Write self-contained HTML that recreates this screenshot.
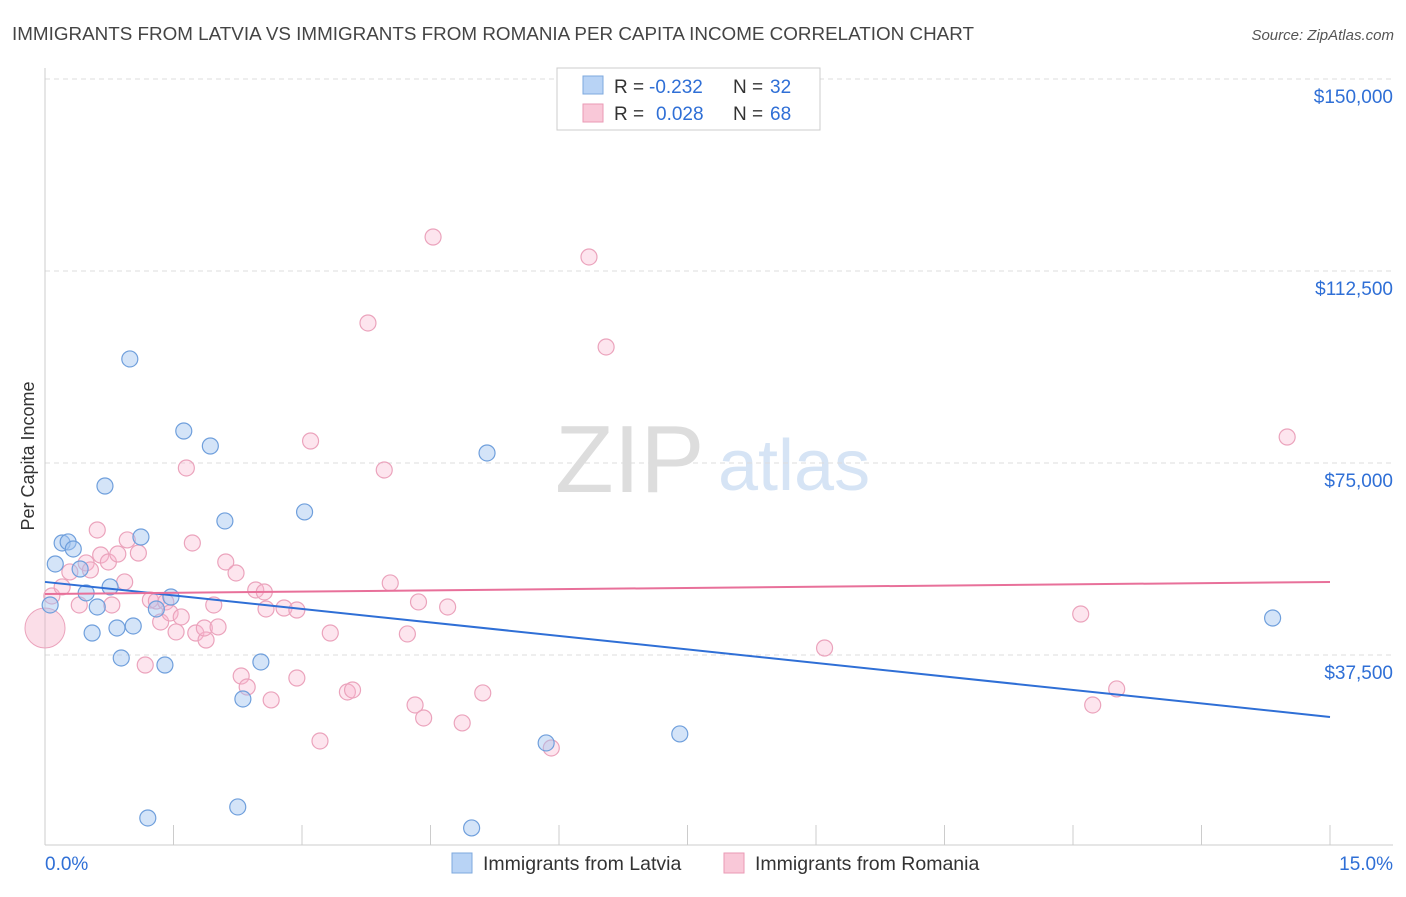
<!DOCTYPE html>
<html><head><meta charset="utf-8"><style>
body{margin:0;background:#fff;font-family:"Liberation Sans",sans-serif;}
svg text{font-family:"Liberation Sans",sans-serif;}
</style></head><body>
<svg id="c" width="1406" height="892">
<text x="12" y="40" font-size="18" fill="#444" textLength="962" lengthAdjust="spacingAndGlyphs">IMMIGRANTS FROM LATVIA VS IMMIGRANTS FROM ROMANIA PER CAPITA INCOME CORRELATION CHART</text>
<text x="1394" y="40" font-size="15" fill="#555" text-anchor="end" font-style="italic">Source: ZipAtlas.com</text>
<text x="34" y="456" font-size="18" fill="#333" text-anchor="middle" transform="rotate(-90 34 456)">Per Capita Income</text>
<text x="555" y="492" font-size="96" fill="#ddd" font-family="Liberation Serif">ZIP</text>
<text x="718" y="490" font-size="72" fill="#d6e4f5">atlas</text>
<g id="grid"></g><g id="pts"></g><g id="lines"></g>
<g>
<rect x="557" y="68" width="263" height="62" fill="#fff" stroke="#ccc"/>
<rect x="583" y="76" width="20" height="18" fill="#b8d3f5" stroke="#7ea8de"/>
<rect x="583" y="104" width="20" height="18" fill="#f9c8d8" stroke="#ea9ab5"/>
<text x="614" y="93" font-size="19" fill="#333">R =</text>
<text x="649" y="93" font-size="19" fill="#2f6fd6">-0.232</text>
<text x="733" y="93" font-size="19" fill="#333">N =</text>
<text x="770" y="93" font-size="19" fill="#2f6fd6">32</text>
<text x="614" y="120" font-size="19" fill="#333">R =</text>
<text x="656" y="120" font-size="19" fill="#2f6fd6">0.028</text>
<text x="733" y="120" font-size="19" fill="#333">N =</text>
<text x="770" y="120" font-size="19" fill="#2f6fd6">68</text>
</g>
<g>
<rect x="452" y="853" width="20" height="20" fill="#b8d3f5" stroke="#7ea8de"/>
<text x="483" y="870" font-size="19.5" fill="#333">Immigrants from Latvia</text>
<rect x="724" y="853" width="20" height="20" fill="#f9c8d8" stroke="#ea9ab5"/>
<text x="755" y="870" font-size="19.5" fill="#333">Immigrants from Romania</text>
</g>
<text x="45" y="870" font-size="19" fill="#2f6fd6">0.0%</text>
<text x="1393" y="870" font-size="19" fill="#2f6fd6" text-anchor="end">15.0%</text>
</svg>
<script>
const yTicks=[150000,112500,75000,37500];
const yTickLabels=["$150,000","$112,500","$75,000","$37,500"];
const latviaX=[.06,.12,.20,.27,.33,.41,.48,.55,.61,.70,.76,.84,.89,.99,1.03,1.12,1.20,1.30,1.40,1.47,1.62,1.93,2.10,2.25,2.31,2.52,3.03,4.98,5.16,5.85,7.41,14.33];
const latviaY=[47270,55280,59380,59580,58210,54300,49620,41800,46880,70510,50790,42780,36920,95320,43170,60550,5670,46490,35550,48830,81250,78320,63680,7820,28910,36140,65440,3720,76960,20320,22080,44730];
const romaniaX=[.08,.20,.29,.40,.48,.53,.61,.65,.74,.78,.85,.93,.96,1.09,1.17,1.23,1.30,1.35,1.41,1.46,1.53,1.59,1.65,1.72,1.76,1.88,1.86,1.97,2.02,2.11,2.23,2.29,2.36,2.46,2.56,2.58,2.64,2.79,2.94,2.94,3.10,3.21,3.33,3.53,3.59,3.77,3.96,4.03,4.23,4.32,4.36,4.42,4.53,4.70,4.87,5.11,5.91,6.35,6.55,9.10,12.09,12.23,12.51,14.50];
const romaniaY=[49030,50790,53720,47270,55480,54110,61920,57030,55670,47270,57230,51770,59970,57420,35550,48240,48050,43950,47860,45710,42000,44930,74030,59380,41800,40430,42780,47270,42980,55670,53520,33400,31250,50200,49810,46490,28720,46680,46290,33010,79300,20710,41800,30280,30670,102350,73640,51570,41610,27740,47860,25200,119140,46880,24230,30090,19340,115240,97660,38870,45510,27740,30870,80080];
const latviaTrend=[51770,25400];
const romaniaTrend=[49420,51770];
const NS="http://www.w3.org/2000/svg";
const X=v=>45+v/15*1285, Y=v=>847-v/37500*192;
function mk(p,t,a){const e=document.createElementNS(NS,t);for(const k in a)e.setAttribute(k,a[k]);document.getElementById(p).appendChild(e);return e;}
yTicks.forEach((t,i)=>{
 const l=mk('grid','line',{x1:45,x2:1393,y1:Y(t),y2:Y(t),stroke:'#ddd','stroke-dasharray':'5,4'});
 
 
 const tx=mk('grid','text',{x:1393,y:Y(t)+24,'font-size':19,fill:'#2f6fd6','text-anchor':'end'});
 tx.textContent=yTickLabels[i];
 
 
});
const ax=mk('grid','line',{x1:45,x2:45,y1:68,y2:845,stroke:'#ccc'});


const bx=mk('grid','line',{x1:45,x2:1393,y1:845,y2:845,stroke:'#ccc'});


for(let i=0;i<=10;i++){const t=mk('grid','line',{x1:X(i*1.5),x2:X(i*1.5),y1:825,y2:845,stroke:'#ccc'});
 
 }
const big=mk('pts','circle',{cx:X(0),cy:Y(42780),r:20,fill:'rgba(244,160,190,0.35)',stroke:'#eba3bc'});


romaniaX.forEach((x,i)=>{const c=mk('pts','circle',{cx:X(x),cy:Y(romaniaY[i]),r:8,fill:'rgba(248,180,205,0.35)',stroke:'#eba3bc','stroke-width':1.2});
 
 });
latviaX.forEach((x,i)=>{const c=mk('pts','circle',{cx:X(x),cy:Y(latviaY[i]),r:8,fill:'rgba(160,195,240,0.45)',stroke:'#6f9fdc','stroke-width':1.2});
 
 });
const lt=mk('lines','line',{x1:X(0),x2:X(15),y1:Y(latviaTrend[0]),y2:Y(latviaTrend[1]),stroke:'#2f6fd6','stroke-width':2});


const rt=mk('lines','line',{x1:X(0),x2:X(15),y1:Y(romaniaTrend[0]),y2:Y(romaniaTrend[1]),stroke:'#e8709a','stroke-width':2});


</script>
</body></html>
